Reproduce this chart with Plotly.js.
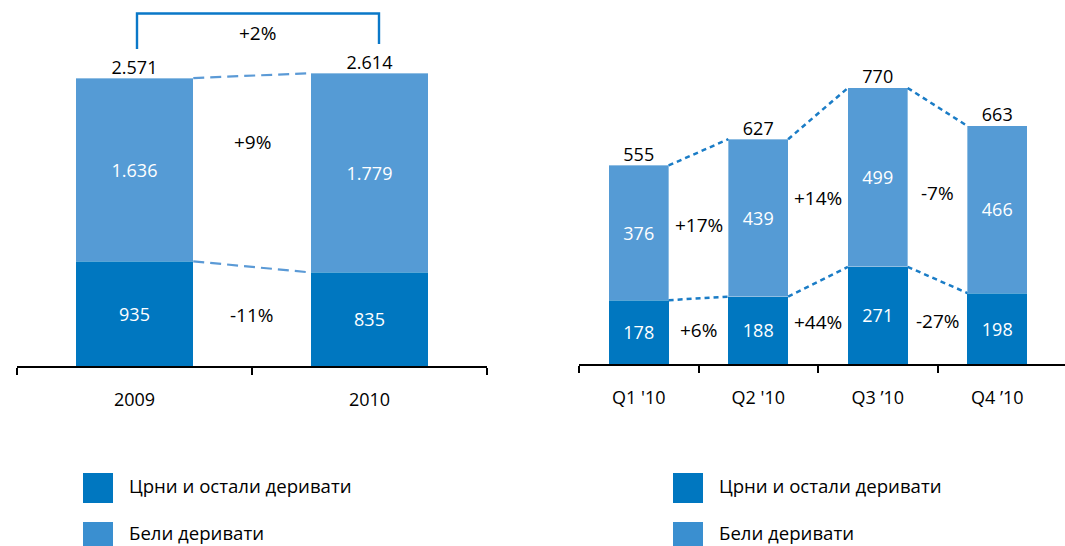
<!DOCTYPE html>
<html>
<head>
<meta charset="utf-8">
<script src="https://cdn.plot.ly/plotly-3.0.1.min.js"></script>
<style>html,body{margin:0;padding:0;background:#fff}#chart{width:1065px;height:546px}</style>
</head>
<body>
<div id="chart"></div>
<script>
// ---- data ----
const yearCats = ['2009', '2010'];
const yearDark = [935, 835];          // Црни и остали деривати
const yearLight = [1636, 1779];       // Бели деривати
const yearTotals = [2571, 2614];
const yearPctLight = ['+9%'];
const yearPctDark = ['-11%'];
const yearPctTotal = '+2%';

const qCats = ["Q1 '10", "Q2 '10", "Q3 \u201910", "Q4 \u201910"];
const qDark = [178, 188, 271, 198];
const qLight = [376, 439, 499, 466];
const qTotals = [555, 627, 770, 663];
const qPctLight = ['+17%', '+14%', '-7%'];
const qPctDark = ['+6%', '+44%', '-27%'];

const legendNames = ['Црни и остали деривати', 'Бели деривати'];

// ---- style ----
const DARK = '#0077c0';
const LIGHT = '#559bd5';
const LEGEND_LIGHT = '#3a8fd0';
const FONT = 'Open Sans, Noto Sans, sans-serif';
const W = 1065, H = 546;
const px = x => x / W;
const py = y => 1 - y / H;
const BW = 0.5;

function idx(arr) { return arr.map((_, i) => i); }

function barTraces(cats, dark, light, totals, xa, ya) {
  const xs = idx(cats);
  const tops = dark.map((d, i) => d + light[i]);
  const common = {
    type: 'bar', x: xs, width: BW, xaxis: xa, yaxis: ya,
    textposition: 'inside', insidetextanchor: 'middle', textangle: 0,
    texttemplate: '%{y:,}', hoverinfo: 'skip', showlegend: false,
    textfont: {family: FONT, size: 18, color: '#ffffff'}
  };
  return [
    Object.assign({}, common, {y: dark, name: legendNames[0], marker: {color: DARK, line: {width: 0}}}),
    Object.assign({}, common, {y: light, name: legendNames[1], marker: {color: LIGHT, line: {width: 1, color: 'rgba(255,255,255,0.35)'}}}),
    {
      type: 'scatter', mode: 'text', x: xs, y: tops, customdata: totals,
      texttemplate: '%{customdata:,}', textposition: 'top center',
      textfont: {family: FONT, size: 18, color: '#000'},
      xaxis: xa, yaxis: ya, hoverinfo: 'skip', showlegend: false, cliponaxis: false
    }
  ];
}

function connectorTraces(dark, light, xa, ya, lineStyle) {
  const out = [];
  const tops = dark.map((d, i) => d + light[i]);
  for (let i = 0; i < dark.length - 1; i++) {
    [tops, dark].forEach(series => {
      out.push({
        type: 'scatter', mode: 'lines',
        x: [i + BW / 2, i + 1 - BW / 2], y: [series[i], series[i + 1]],
        line: lineStyle, xaxis: xa, yaxis: ya, hoverinfo: 'skip', showlegend: false, cliponaxis: false
      });
    });
  }
  return out;
}

const data = [].concat(
  barTraces(yearCats, yearDark, yearLight, yearTotals, 'x', 'y'),
  connectorTraces(yearDark, yearLight, 'x', 'y', {color: '#5b9ad6', width: 2.2, dash: '11px,6px'}),
  barTraces(qCats, qDark, qLight, qTotals, 'x2', 'y2'),
  connectorTraces(qDark, qLight, 'x2', 'y2', {color: '#1a7cc6', width: 2.5, dash: '5px,4px'})
);

// ---- axes ----
const LEFT_DOMAIN = [px(17), px(487)];
const RIGHT_DOMAIN = [px(579), 1];
const leftRange = [-0.5, 1.5];
const rightRange = [-0.5, 3.5 + 8 / 119.5];

function catAxis(domain, range, anchor, cats, nBounds) {
  const bounds = [];
  for (let i = 0; i < nBounds; i++) bounds.push(i - 0.5);
  return {
    domain: domain, range: range, anchor: anchor, fixedrange: true,
    tickmode: 'array', tickvals: idx(cats), ticktext: cats, ticks: '',
    ticklabelstandoff: 16,
    tickfont: {family: FONT, size: 18, color: '#000'},
    minor: {tickmode: 'array', tickvals: bounds, ticks: 'outside', ticklen: 7, tickwidth: 2, tickcolor: '#000', showgrid: false},
    showline: true, linecolor: '#000', linewidth: 2,
    showgrid: false, zeroline: false
  };
}

const layout = {
  width: W, height: H,
  margin: {l: 0, r: 0, t: 0, b: 0, pad: 0},
  paper_bgcolor: '#fff', plot_bgcolor: 'rgba(0,0,0,0)',
  separators: ',.',
  barmode: 'stack',
  showlegend: false,
  font: {family: FONT, size: 18, color: '#000'},
  xaxis: catAxis(LEFT_DOMAIN, leftRange, 'y', yearCats, yearCats.length + 1),
  xaxis2: catAxis(RIGHT_DOMAIN, rightRange, 'y2', qCats, qCats.length),
  yaxis: {domain: [py(366), 1], range: [0, 366 / 0.112], visible: false, fixedrange: true, anchor: 'x'},
  yaxis2: {domain: [py(364), 1], range: [0, 364 / 0.3585], visible: false, fixedrange: true, anchor: 'x2'},
  shapes: [],
  annotations: []
};

// growth labels between bars
function pctAnnotations(dark, light, pLight, pDark, xref, yref, lightShift) {
  const res = [];
  for (let i = 0; i < dark.length - 1; i++) {
    const midL = ((dark[i] + light[i] / 2) + (dark[i + 1] + light[i + 1] / 2)) / 2;
    const midD = (dark[i] / 2 + dark[i + 1] / 2) / 2;
    res.push({x: i + 0.5, y: midL, xref: xref, yref: yref, text: pLight[i], showarrow: false, yshift: lightShift,
      font: {family: FONT, size: 19, color: '#000'}});
    res.push({x: i + 0.5, y: midD, xref: xref, yref: yref, text: pDark[i], showarrow: false, yshift: 1,
      font: {family: FONT, size: 19, color: '#000'}});
  }
  return res;
}
layout.annotations = layout.annotations.concat(
  pctAnnotations(yearDark, yearLight, yearPctLight, yearPctDark, 'x', 'y', 29),
  pctAnnotations(qDark, qLight, qPctLight, qPctDark, 'x2', 'y2', 0)
);

// total growth bracket
layout.shapes.push({
  type: 'path', xref: 'paper', yref: 'paper',
  path: `M ${px(137)} ${py(49)} L ${px(137)} ${py(13.5)} L ${px(379)} ${py(13.5)} L ${px(379)} ${py(44)}`,
  line: {color: '#0a78c8', width: 2.4}
});
layout.annotations.push({
  xref: 'paper', yref: 'paper', x: px(257), y: py(33), xanchor: 'center', yanchor: 'middle',
  text: yearPctTotal, showarrow: false,
  font: {family: FONT, size: 19, color: '#000'}
});

// legends (drawn as decoration)
function legendBlock(xSq, xText) {
  const cols = [DARK, LEGEND_LIGHT];
  const sqTop = [473, 522];
  const textMid = [485, 532];
  cols.forEach((c, i) => {
    layout.shapes.push({type: 'rect', xref: 'paper', yref: 'paper',
      x0: px(xSq), x1: px(xSq + 30), y0: py(sqTop[i]), y1: py(sqTop[i] + 30),
      fillcolor: c, line: {width: 0}});
    layout.annotations.push({xref: 'paper', yref: 'paper', x: px(xText), y: py(textMid[i]),
      xanchor: 'left', yanchor: 'middle', text: legendNames[i], showarrow: false,
      font: {family: FONT, size: 18.6, color: '#000'}});
  });
}
legendBlock(83, 127);
legendBlock(673, 717);

Plotly.newPlot('chart', data, layout, {displayModeBar: false, staticPlot: true});
</script>
</body>
</html>
